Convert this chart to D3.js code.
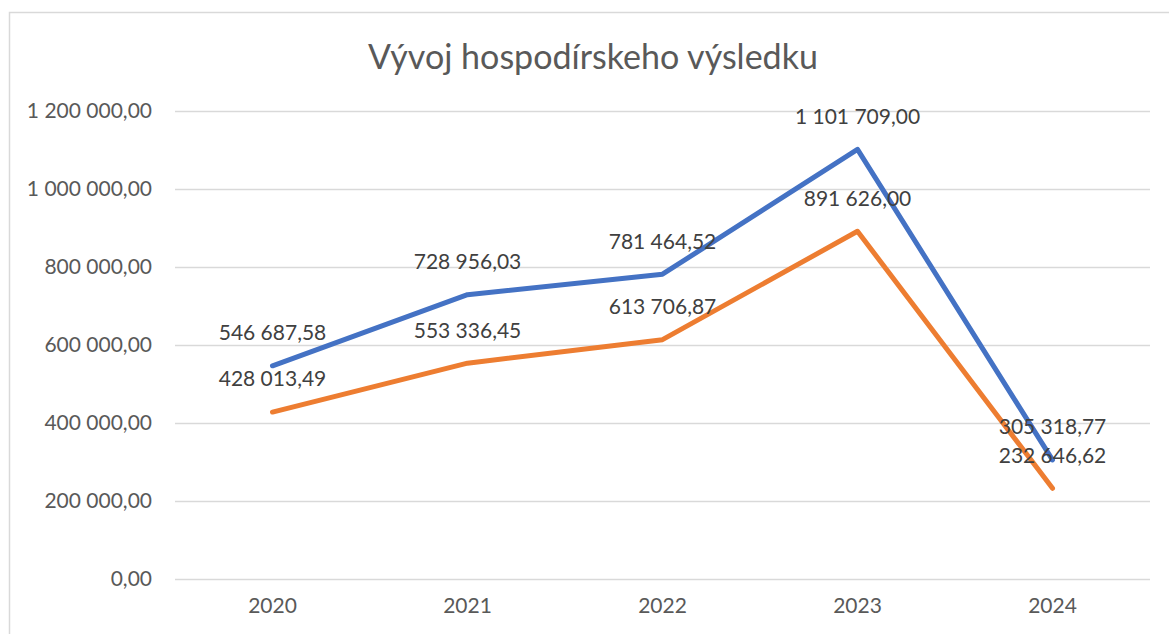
<!DOCTYPE html>
<html>
<head>
<meta charset="utf-8">
<script src="https://cdn.jsdelivr.net/npm/d3@7"></script>
<style>
  html, body { margin: 0; padding: 0; background: #fff; }
  svg { display: block; }
  text { font-family: Lato, "Open Sans", sans-serif; fill: #595959; }
</style>
</head>
<body>
<svg id="chart" width="1169" height="634"></svg>
<script>
const title = "Vývoj hospodírskeho výsledku";
const categories = ["2020", "2021", "2022", "2023", "2024"];
const seriesBlue = [546687.58, 728956.03, 781464.52, 1101709.00, 305318.77];
const seriesOrange = [428013.49, 553336.45, 613706.87, 891626.00, 232646.62];
const yTicks = [0, 200000, 400000, 600000, 800000, 1000000, 1200000];

const svg = d3.select("#chart");
const W = 1169, H = 634;
const plot = { left: 175, right: 1150, top: 111, bottom: 579 };

// chart border
svg.append("path")
  .attr("d", `M9.5,${H} L9.5,12.5 L${W},12.5`)
  .attr("fill", "none").attr("stroke", "#d9d9d9").attr("stroke-width", 1.5);

const x = d3.scaleBand().domain(categories).range([plot.left, plot.right]);
const y = d3.scaleLinear().domain([0, 1200000]).range([plot.bottom, plot.top]);

const fmt = v => {
  const s = d3.format(",.2f")(v);
  return s.replace(/,/g, " ").replace(".", ",");
};

// grid + y axis
const yAxis = d3.axisLeft(y).tickValues(yTicks).tickSize(-(plot.right - plot.left)).tickPadding(23).tickFormat(fmt);
const gy = svg.append("g").attr("transform", `translate(${plot.left},0)`).call(yAxis);
gy.select(".domain").remove();
gy.selectAll(".tick line").attr("stroke", "#d9d9d9").attr("stroke-width", 1.5);
gy.selectAll(".tick text").attr("font-size", 21).style("fill", "#595959").attr("font-family", "Lato, sans-serif");

// x axis
const xAxis = d3.axisBottom(x).tickSize(0).tickPadding(19);
const gx = svg.append("g").attr("transform", `translate(0,${plot.bottom})`).call(xAxis);
gx.select(".domain").remove();
gx.selectAll(".tick text").attr("font-size", 21).style("fill", "#595959").attr("font-family", "Lato, sans-serif");

const cx = c => x(c) + x.bandwidth() / 2;
const line = d3.line().x((d, i) => cx(categories[i])).y(d => y(d));

const series = [
  { values: seriesBlue, color: "#4472C4" },
  { values: seriesOrange, color: "#ED7D31" }
];

series.forEach(s => {
  svg.append("path").datum(s.values)
    .attr("d", line)
    .attr("fill", "none").attr("stroke", s.color)
    .attr("stroke-width", 5).attr("stroke-linecap", "round").attr("stroke-linejoin", "round");
});

series.forEach(s => {
  svg.append("g").selectAll("text").data(s.values).join("text")
    .attr("x", (d, i) => cx(categories[i]))
    .attr("y", d => y(d) - 33)
    .attr("dy", "0.35em")
    .attr("text-anchor", "middle")
    .attr("font-size", 21)
    .style("fill", "#404040")
    .text(d => fmt(d));
});

// title
const t = svg.append("text")
  .attr("x", 593).attr("y", 57).attr("dy", "0.35em")
  .attr("text-anchor", "middle").attr("font-size", 30)
  .style("fill", "#595959")
  .text(title);
const w = t.node().getComputedTextLength();
t.attr("font-size", 30 * 450 / w);
</script>
</body>
</html>
